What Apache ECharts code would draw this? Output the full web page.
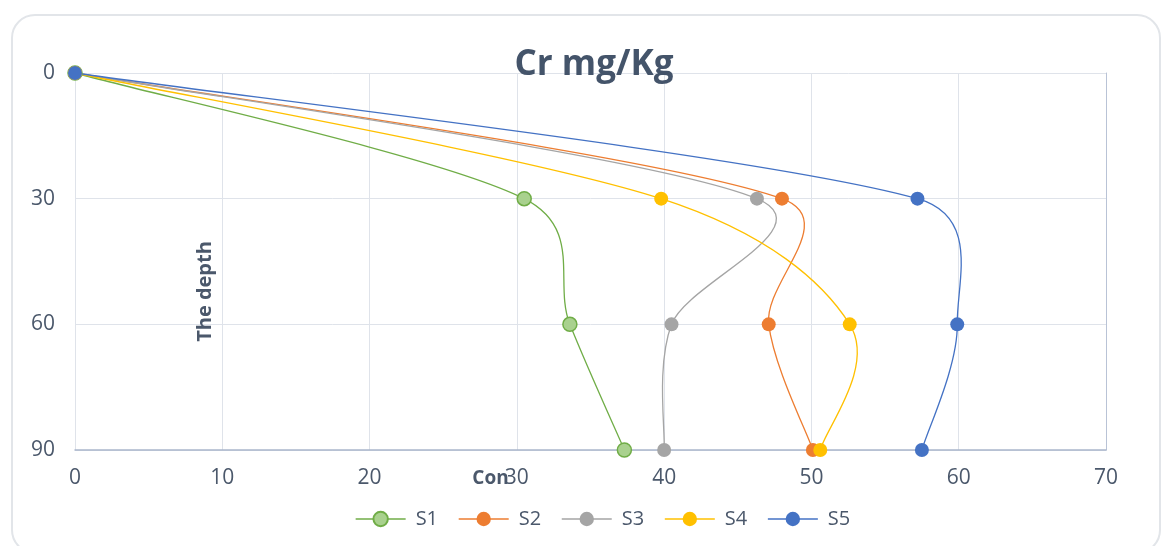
<!DOCTYPE html>
<html>
<head>
<meta charset="utf-8">
<script src="https://cdn.jsdelivr.net/npm/echarts@6/dist/echarts.min.js"></script>
<style>
  html, body { margin: 0; padding: 0; background: #fff; }
  #wrap { position: relative; width: 1164px; height: 546px; overflow: hidden; }
  #card { position: absolute; left: 11px; top: 14px; width: 1150px; height: 540px;
          border: 2px solid #e2e5e9; border-radius: 24px; box-sizing: border-box; }
  #chart { position: absolute; left: 0; top: 0; width: 1164px; height: 546px; }
</style>
</head>
<body>
<div id="wrap"><div id="card"></div><div id="chart"></div></div>
<script>
const depths = [0, 30, 60, 90];
const seriesNames = ['S1', 'S2', 'S3', 'S4', 'S5'];
const S1 = [0, 30.5, 33.6, 37.3];
const S2 = [0, 48.0, 47.1, 50.1];
const S3 = [0, 46.3, 40.5, 40.0];
const S4 = [0, 39.8, 52.6, 50.6];
const S5 = [0, 57.2, 59.9, 57.5];
const xTicks = [0, 10, 20, 30, 40, 50, 60, 70];
const yTicks = [0, 30, 60, 90];

const lineColors = ['#70AD47', '#ED7D31', '#A5A5A5', '#FFC000', '#4472C4'];
const fillColors = ['#A9D18E', '#ED7D31', '#A5A5A5', '#FFC000', '#4472C4'];
const values = [S1, S2, S3, S4, S5];
const txt = '#4b586b';
const font = '"Open Sans", "Noto Sans", sans-serif';

// Office-style smoothed curve: Bezier segments, tangent = next - prev,
// control distance = min(|tangent|/6, segment/2), computed in screen space.
function makeRender(vals, color) {
  return function (params, api) {
    const i = params.dataIndex;
    if (i >= vals.length - 1) return null;
    const P = vals.map((x, k) => api.coord([x, depths[k]]));
    const n = P.length;
    const tangent = k => {
      const a = P[Math.max(0, k - 1)], b = P[Math.min(n - 1, k + 1)];
      return [b[0] - a[0], b[1] - a[1]];
    };
    const p0 = P[i], p1 = P[i + 1];
    const seg = Math.hypot(p1[0] - p0[0], p1[1] - p0[1]);
    const t0 = tangent(i), t1 = tangent(i + 1);
    const l0 = Math.hypot(t0[0], t0[1]) || 1, l1 = Math.hypot(t1[0], t1[1]) || 1;
    const d0 = Math.min(l0 / 6, seg / 2), d1 = Math.min(l1 / 6, seg / 2);
    return {
      type: 'bezierCurve',
      shape: {
        x1: p0[0], y1: p0[1], x2: p1[0], y2: p1[1],
        cpx1: p0[0] + t0[0] / l0 * d0, cpy1: p0[1] + t0[1] / l0 * d0,
        cpx2: p1[0] - t1[0] / l1 * d1, cpy2: p1[1] - t1[1] / l1 * d1
      },
      style: { stroke: color, lineWidth: 1.3, fill: null }
    };
  };
}

const curveSeries = seriesNames.map((n, i) => ({
  name: n + ' curve', type: 'custom',
  data: values[i].map((x, k) => [x, depths[k]]),
  encode: { x: 0, y: 1 },
  renderItem: makeRender(values[i], lineColors[i]),
  z: 2 + i, silent: true
}));

const markerSeries = seriesNames.map((n, i) => ({
  name: n, type: 'line',
  data: values[i].map((x, k) => [x, depths[k]]),
  symbol: 'circle', symbolSize: 14,
  lineStyle: { color: lineColors[i], width: 1.3, opacity: 0 },
  itemStyle: { color: fillColors[i], borderColor: lineColors[i], borderWidth: i === 0 ? 1.5 : 0 },
  z: 10 + i
}));

const chart = echarts.init(document.getElementById('chart'));
chart.setOption({
  backgroundColor: 'transparent',
  animation: false,
  textStyle: { fontFamily: font },
  title: {
    text: 'Cr mg/Kg', left: 589, textAlign: 'center', top: 43,
    textStyle: { fontSize: 35, fontWeight: 'bold', color: '#44546A', fontFamily: font }
  },
  legend: {
    bottom: 12, left: 350, itemWidth: 50, itemHeight: 18, itemGap: 20,
    lineStyle: { opacity: 1, width: 1.3 },
    textStyle: { fontSize: 20, color: txt, fontFamily: font, padding: [0, 0, 0, 5] },
    data: seriesNames
  },
  grid: { left: 75, right: 58, top: 73, bottom: 96 },
  xAxis: {
    type: 'value', min: 0, max: 70, interval: 10,
    name: 'Con', nameLocation: 'middle', nameGap: 19, nameMoveOverlap: false,
    nameTextStyle: { fontSize: 19, fontWeight: 'bold', color: txt, padding: [0, 200, 0, 0] },
    axisLine: { show: true, onZero: false, lineStyle: { color: '#aab6cc', width: 1.5 } },
    axisTick: { show: false },
    axisLabel: { fontSize: 21, color: txt, margin: 18,
                 formatter: v => xTicks.includes(v) ? String(v) : '' },
    splitLine: { show: true, lineStyle: { color: '#dfe3ea', width: 1 } }
  },
  yAxis: [{
    type: 'value', min: 0, max: 90, interval: 30, inverse: true,
    name: 'The depth', nameLocation: 'middle', nameGap: -140, nameMoveOverlap: false,
    nameTextStyle: { fontSize: 20, fontWeight: 'bold', color: txt, padding: [0, 60, 0, 0] },
    axisLine: { show: false }, axisTick: { show: false },
    axisLabel: { fontSize: 21, color: txt, margin: 20,
                 formatter: v => yTicks.includes(v) ? String(v) : '' },
    splitLine: { show: true, lineStyle: { color: '#dfe3ea', width: 1 } }
  }, {
    type: 'value', min: 0, max: 90, interval: 30, inverse: true, position: 'right',
    axisLine: { show: true, onZero: false, lineStyle: { color: '#b9c3d6', width: 1 } },
    axisTick: { show: false }, axisLabel: { show: false }, splitLine: { show: false }
  }],
  series: curveSeries.concat(markerSeries)
});
</script>
</body>
</html>
